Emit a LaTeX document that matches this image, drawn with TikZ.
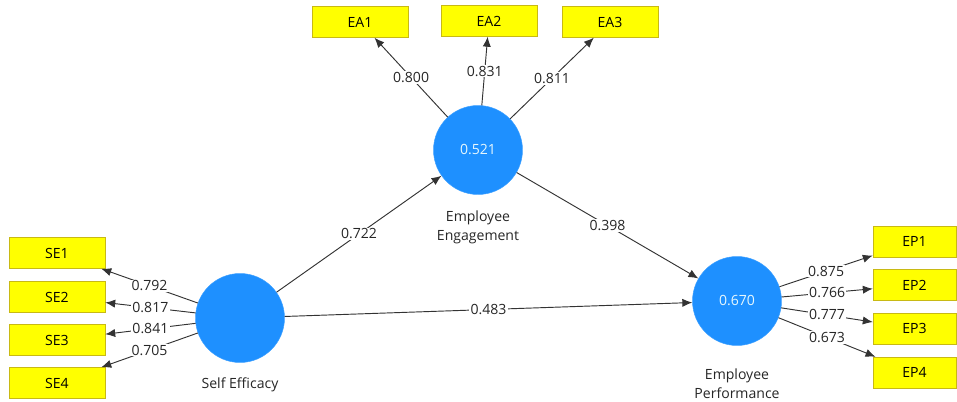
\documentclass[tikz,border=0pt]{standalone}
\usepackage{fontspec}
\setmainfont{Open Sans}
\usetikzlibrary{arrows.meta,positioning}
\definecolor{latentblue}{RGB}{30,144,255}
\definecolor{itemyellow}{RGB}{255,255,0}
\definecolor{itemedge}{RGB}{200,185,20}
\begin{document}
\begin{tikzpicture}[x=0.03cm, y=-0.03cm,
    every node/.style={font=\fontsize{12}{16}\selectfont},
    latent/.style={circle, fill=latentblue, draw=latentblue!85!white, minimum size=2.67cm, inner sep=0pt, text=white!90!cyan},
    item/.style={rectangle, fill=itemyellow, draw=itemedge, minimum width=2.88cm, minimum height=0.93cm, inner sep=0pt},
    caption/.style={align=center, text=black!85},
    weight/.style={fill=white, inner sep=1pt, text=black!85},
    link/.style={draw=black!80, line width=0.8pt, -{Latex[length=8.5pt,width=7pt]}}]
    \useasboundingbox (0,0) rectangle (957,402);
    \begin{scope}
        \node[latent] (se) at (240,318) {};
        \node[latent] (ee) at (478,150) {0.521};
        \node[latent] (ep) at (737,301) {0.670};
        \node[caption] (se-name) at (240,385) {Self Efficacy};
        \node[caption] (ee-name) at (478,227) {Employee\\Engagement};
        \node[caption] (ep-name) at (737,384) {Employee\\Performance};
    \end{scope}
    \begin{scope}
        \node[item] (se1) at (57,253) {SE1};
        \node[item] (se2) at (57,297) {SE2};
        \node[item] (se3) at (57,340) {SE3};
        \node[item] (se4) at (57,383) {SE4};
        \node[item] (ea1) at (360,22) {EA1};
        \node[item] (ea2) at (489,21) {EA2};
        \node[item] (ea3) at (610,22) {EA3};
        \node[item, minimum width=2.49cm] (ep1) at (914.5,241.5) {EP1};
        \node[item, minimum width=2.49cm] (ep2) at (914.5,285) {EP2};
        \node[item, minimum width=2.49cm] (ep3) at (914.5,328.5) {EP3};
        \node[item, minimum width=2.49cm] (ep4) at (914.5,372.5) {EP4};
    \end{scope}
    \draw[link] (se) -- node[weight] {0.792} (se1);
    \draw[link] (se) -- node[weight] {0.817} (se2);
    \draw[link] (se) -- node[weight] {0.841} (se3);
    \draw[link] (se) -- node[weight] {0.705} (se4);
    \draw[link] (ee) -- node[weight] {0.800} (ea1);
    \draw[link] (ee) -- node[weight] {0.831} (ea2);
    \draw[link] (ee) -- node[weight] {0.811} (ea3);
    \draw[link] (ep) -- node[weight] {0.875} (ep1);
    \draw[link] (ep) -- node[weight] {0.766} (ep2);
    \draw[link] (ep) -- node[weight] {0.777} (ep3);
    \draw[link] (ep) -- node[weight] {0.673} (ep4);
    \draw[link] (se) -- node[weight] {0.722} (ee);
    \draw[link] (ee) -- node[weight] {0.398} (ep);
    \draw[link] (se) -- node[weight] {0.483} (ep);
\end{tikzpicture}
\end{document}
